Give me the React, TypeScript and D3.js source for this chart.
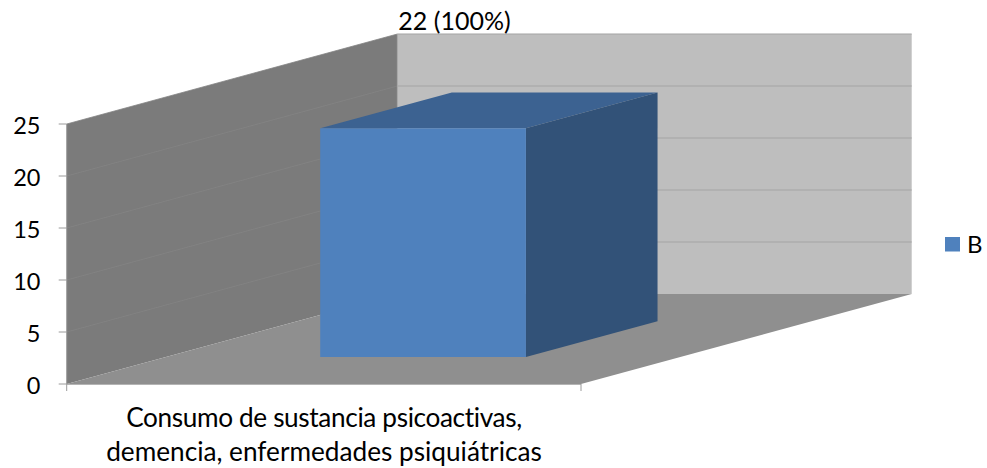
import React from "react";
import * as d3 from "d3";

const categories = ["Consumo de sustancia psicoactivas,\ndemencia, enfermedades psiquiátricas"];
const seriesName = "B";
const seriesValues = [22];
const dataLabels = ["22 (100%)"];
const valueTicks = [0, 5, 10, 15, 20, 25];

const WIDTH = 987;
const HEIGHT = 468;
const FONT = "Lato, Carlito, Calibri, sans-serif";

const WALL_SIDE = "#7b7b7b";
const WALL_BACK = "#bebebe";
const FLOOR = "#8f8f8f";
const BAR_FRONT = "#4f81bd";
const BAR_TOP = "#3c6291";
const BAR_SIDE = "#325278";

// Oblique projection: a point is placed by category position, value and depth.
const x = d3.scaleBand<string>().domain(categories).range([66.7, 581]).paddingInner(0.6).paddingOuter(0.3);
const y = d3.scaleLinear().domain([0, 25]).range([384, 124]);
const depthX = d3.scaleLinear().domain([0, 1]).range([0, 330.7]);
const depthY = d3.scaleLinear().domain([0, 1]).range([0, -90]);

const project = (px: number, value: number, depth: number): [number, number] => [
  px + depthX(depth),
  y(value) + depthY(depth),
];
const poly = d3.line().curve(d3.curveLinearClosed);

const BAR_DEPTH_START = 0.3;
const BAR_DEPTH_END = 0.698;

export default function App() {
  const [x0, x1] = x.range();
  const [yMin, yMax] = y.domain();
  const labels = categories[0].split("\n");

  return (
    <svg
      width={WIDTH}
      height={HEIGHT}
      viewBox={`0 0 ${WIDTH} ${HEIGHT}`}
      style={{ position: "absolute", left: 0, top: 0, background: "#fff" }}
      fontFamily={FONT}
    >
      {/* Walls and floor */}
      <path
        d={poly([project(x0, yMin, 1), project(x1, yMin, 1), project(x1, yMax, 1), project(x0, yMax, 1)])!}
        fill={WALL_BACK}
      />
      <path
        d={poly([project(x0, yMin, 0), project(x0, yMin, 1), project(x0, yMax, 1), project(x0, yMax, 0)])!}
        fill={WALL_SIDE}
      />
      <path
        d={poly([project(x0, yMin, 0), project(x1, yMin, 0), project(x1, yMin, 1), project(x0, yMin, 1)])!}
        fill={FLOOR}
      />

      {/* Gridlines across the side and back walls */}
      {valueTicks.slice(1).map((t) => {
        const a = project(x0, t, 0);
        const b = project(x0, t, 1);
        const c = project(x1, t, 1);
        return (
          <g key={t} fill="none">
            <line x1={a[0]} y1={a[1]} x2={b[0]} y2={b[1]} stroke="#848484" strokeWidth={0.8} />
            <line x1={b[0]} y1={b[1]} x2={c[0]} y2={c[1]} stroke="#a3a3a3" strokeWidth={1.2} />
          </g>
        );
      })}
      <line
        x1={project(x0, yMin, 1)[0]}
        y1={project(x0, yMin, 1)[1]}
        x2={project(x0, yMax, 1)[0]}
        y2={project(x0, yMax, 1)[1]}
        stroke="#a8a8a8"
        strokeWidth={1}
      />

      {/* Axis lines and ticks */}
      <line x1={x0} y1={y(0)} x2={x0} y2={y(25)} stroke="#9a9a9a" strokeWidth={1} />
      <line x1={x0} y1={y(0) + 0.5} x2={x1} y2={y(0) + 0.5} stroke="#b4b4b4" strokeWidth={1} />
      <line x1={x0} y1={y(0)} x2={x0} y2={y(0) + 7} stroke="#9a9a9a" strokeWidth={1} />
      <line x1={x1} y1={y(0)} x2={x1} y2={y(0) + 7} stroke="#9a9a9a" strokeWidth={1} />
      {valueTicks.map((t) => (
        <g key={t}>
          <line x1={x0 - 8} x2={x0} y1={y(t)} y2={y(t)} stroke="#9a9a9a" strokeWidth={1} />
          <text x={40.5} y={y(t) + 9.5} textAnchor="end" fontSize={23.5} fill="#000">
            {t}
          </text>
        </g>
      ))}

      {/* Three-dimensional bar */}
      {categories.map((c, i) => {
        const left = x(c)!;
        const right = left + x.bandwidth();
        const v = seriesValues[i];
        const d0 = BAR_DEPTH_START;
        const d1 = BAR_DEPTH_END;
        return (
          <g key={c}>
            <path
              d={poly([project(left, v, d0), project(right, v, d0), project(right, v, d1), project(left, v, d1)])!}
              fill={BAR_TOP}
            />
            <path
              d={poly([project(right, 0, d0), project(right, 0, d1), project(right, v, d1), project(right, v, d0)])!}
              fill={BAR_SIDE}
            />
            <path
              d={poly([project(left, 0, d0), project(right, 0, d0), project(right, v, d0), project(left, v, d0)])!}
              fill={BAR_FRONT}
            />
            <text x={454.5} y={30} textAnchor="middle" fontSize={25} fill="#000">
              {dataLabels[i]}
            </text>
          </g>
        );
      })}

      {/* Category label */}
      <text textAnchor="middle" fontSize={26.2} fill="#000">
        <tspan x={324} y={427} letterSpacing={-0.36}>
          {labels[0]}
        </tspan>
        <tspan x={324} y={461}>
          {labels[1]}
        </tspan>
      </text>

      {/* Legend */}
      <rect x={945} y={237} width={15} height={14.5} fill={BAR_FRONT} />
      <text x={967} y={253} fontSize={24} fill="#000">
        {seriesName}
      </text>
    </svg>
  );
}
